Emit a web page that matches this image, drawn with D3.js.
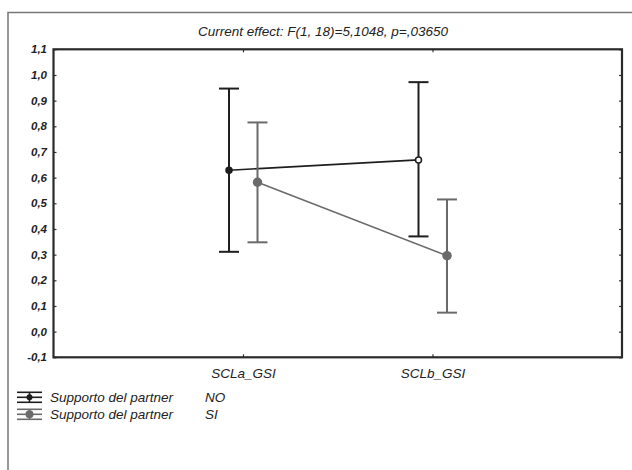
<!DOCTYPE html>
<html><head><meta charset="utf-8">
<script src="https://cdn.jsdelivr.net/npm/d3@7"></script>
<style>
html,body{margin:0;padding:0;background:#fff;}
svg{display:block;}
text{font-family:"Liberation Sans",Arial,sans-serif;font-style:italic;fill:#222;}
</style></head>
<body>
<svg id="c" width="632" height="470"></svg>
<script>
const title = "Current effect: F(1, 18)=5,1048, p=,03650";
const categories = ["SCLa_GSI", "SCLb_GSI"];
const seriesNames = ["Supporto del partner", "Supporto del partner"];
const seriesLevels = ["NO", "SI"];
const meanNO = [0.629, 0.669];
const lowerNO = [0.311, 0.371];
const upperNO = [0.947, 0.972];
const meanSI = [0.582, 0.296];
const lowerSI = [0.348, 0.074];
const upperSI = [0.815, 0.515];
const yTicks = [-0.1, 0.0, 0.1, 0.2, 0.3, 0.4, 0.5, 0.6, 0.7, 0.8, 0.9, 1.0, 1.1];

const svg = d3.select("#c");
const L = 53.5, R = 622, T = 49.3, B = 357.3;

// outer frame
svg.append("path").attr("d", `M8,480 L8,12.5 L640,12.5`).attr("fill","none")
  .attr("stroke","#777").attr("stroke-width",1.5);

const x = d3.scalePoint().domain(categories).range([L, R]).padding(1);
const y = d3.scaleLinear().domain([-0.1, 1.1]).range([B, T]);

const fmt = v => d3.format(".1f")(v).replace(".", ",").replace("−","-");

// axes
const gL = svg.append("g").attr("transform", `translate(${L},0)`)
  .call(d3.axisLeft(y).tickValues(yTicks).tickSizeInner(-3).tickSizeOuter(0).tickPadding(6.5).tickFormat(fmt));
const gR = svg.append("g").attr("transform", `translate(${R},0)`)
  .call(d3.axisRight(y).tickValues(yTicks).tickSizeInner(-3).tickSizeOuter(0).tickFormat(""));
const gB = svg.append("g").attr("transform", `translate(0,${B})`)
  .call(d3.axisBottom(x).tickSizeInner(-3).tickSizeOuter(0).tickPadding(11));
const gT = svg.append("g").attr("transform", `translate(0,${T})`)
  .call(d3.axisTop(x).tickSizeInner(-3).tickSizeOuter(0).tickFormat(""));
[gL,gR,gB,gT].forEach(g=>{
  g.selectAll(".domain").remove();
  g.selectAll(".tick line").attr("stroke","#333").attr("stroke-width",1.2);
  g.selectAll("text").attr("font-family","Liberation Sans, Arial, sans-serif")
    .attr("font-style","italic").attr("fill","#222");
});
gL.selectAll("text").attr("font-weight","bold").attr("fill","#333").attr("font-size",11.5);
gB.selectAll("text").attr("font-size",13.5);

svg.append("rect").attr("x",L).attr("y",T).attr("width",R-L).attr("height",B-T)
  .attr("fill","none").attr("stroke","#2a2a2a").attr("stroke-width",2.2);

// title
svg.append("text").attr("x",323).attr("y",36).attr("text-anchor","middle")
  .attr("font-size",13.5).text(title);

// series
const series = [
  {mean: meanNO, lo: lowerNO, hi: upperNO, color: "#1e1e1e", off: -14, r: 3},
  {mean: meanSI, lo: lowerSI, hi: upperSI, color: "#6a6a6a", off: 14.5, r: 4}
];
const cap = 10;
series.forEach((s, si) => {
  const g = svg.append("g");
  const px = i => x(categories[i]) + s.off;
  g.append("path").attr("fill","none").attr("stroke",s.color).attr("stroke-width",1.6)
    .attr("d", d3.line().x((d,i)=>px(i)).y(d=>y(d))(s.mean));
  categories.forEach((c,i)=>{
    g.append("line").attr("x1",px(i)).attr("x2",px(i)).attr("y1",y(s.lo[i])).attr("y2",y(s.hi[i]))
      .attr("stroke",s.color).attr("stroke-width",2);
    [s.lo[i], s.hi[i]].forEach(v=>{
      g.append("line").attr("x1",px(i)-cap).attr("x2",px(i)+cap).attr("y1",y(v)).attr("y2",y(v))
        .attr("stroke",s.color).attr("stroke-width",2);
    });
    const hollow = (si===0 && i===1);
    g.append("circle").attr("cx",px(i)).attr("cy",y(s.mean[i])).attr("r",s.r)
      .attr("fill", hollow ? "#fff" : s.color).attr("stroke", s.color).attr("stroke-width",1.5);
  });
});

// legend
series.forEach((s, si) => {
  const cy = 397.3 + si*17;
  const g = svg.append("g");
  [-5, 0, 5].forEach(dy=>{
    g.append("line").attr("x1",17).attr("x2",42).attr("y1",cy+dy).attr("y2",cy+dy)
      .attr("stroke",s.color).attr("stroke-width",1.6);
  });
  g.append("line").attr("x1",29.5).attr("x2",29.5).attr("y1",cy-5).attr("y2",cy+5)
    .attr("stroke",s.color).attr("stroke-width",1.6);
  g.append("circle").attr("cx",29.5).attr("cy",cy).attr("r",s.r).attr("fill",s.color);
  g.append("text").attr("x",50).attr("y",cy+4.5).attr("font-size",13.5).text(seriesNames[si]);
  g.append("text").attr("x",205).attr("y",cy+4.5).attr("font-size",13.5).text(seriesLevels[si]);
});
</script>
</body></html>
